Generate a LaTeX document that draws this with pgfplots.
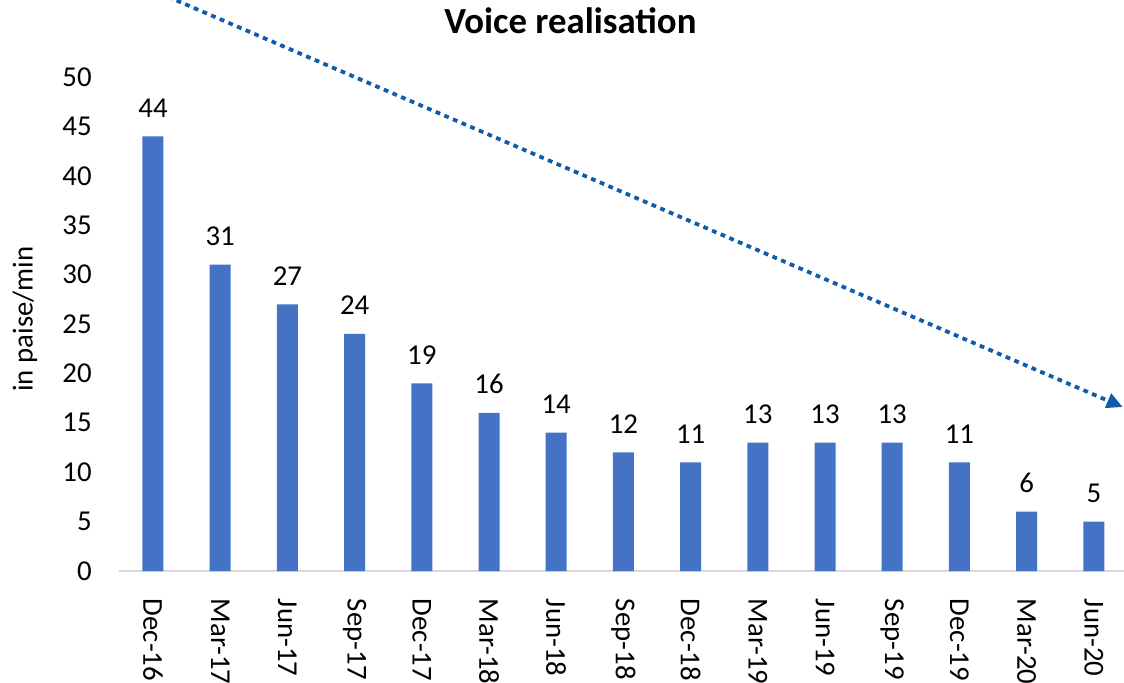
\documentclass[border=0pt]{standalone}
\usepackage{pgfplots}
\pgfplotsset{compat=1.18}
\usepackage{fontspec}
\setmainfont{Carlito}
\usetikzlibrary{arrows.meta}
\definecolor{barblue}{HTML}{4472C4}
\definecolor{arrowblue}{HTML}{0E5DAA}
\definecolor{axisgrey}{HTML}{D9D9D9}
\begin{document}
\begin{tikzpicture}
\begin{axis}[
  at={(0,0)}, anchor=south west,
  scale only axis,
  width=504pt, height=247pt,
  xmin=-0.5, xmax=14.5, ymin=0, ymax=50,
  enlargelimits=false,
  clip=false,
  ybar, bar width=10.5pt,
  axis x line*=bottom, axis y line*=left,
  x axis line style={draw=axisgrey, line width=0.9pt},
  y axis line style={draw=none},
  tick style={draw=none},
  xtick=data,
  xticklabels={Dec-16,Mar-17,Jun-17,Sep-17,Dec-17,Mar-18,Jun-18,Sep-18,Dec-18,Mar-19,Jun-19,Sep-19,Dec-19,Mar-20,Jun-20},
  ytick={0,5,...,50},
  /pgf/number format/assume math mode=true,
  tick label style={font=\fontsize{14.4pt}{17pt}\selectfont, text=black},
  xticklabel style={rotate=-90, anchor=west, inner sep=0pt},
  xticklabel shift=9.5pt,
  yticklabel style={anchor=east, inner sep=0pt, xshift=-13.7pt},
  ylabel={in paise/min},
  ylabel style={at={(axis description cs:-0.0937,0.51)}, anchor=center, font=\fontsize{14.4pt}{17pt}\selectfont},
  nodes near coords,
  every node near coord/.append style={anchor=base, inner sep=0pt, yshift=9.5pt, font=\fontsize{14.4pt}{17pt}\selectfont, text=black},
]
\addplot[fill=barblue, draw=none] coordinates {
  (0,44) (1,31) (2,27) (3,24) (4,19) (5,16) (6,14) (7,12)
  (8,11) (9,13) (10,13) (11,13) (12,11) (13,6) (14,5)
};
\draw[arrowblue, line width=1.9pt, dash pattern=on 2.4pt off 2.3pt,
  -{Triangle[length=8pt,width=7.5pt]}]
  (axis cs:-0.42,60) -- (axis cs:14.43,16.6);
\end{axis}
\node[anchor=base, font=\bfseries\fontsize{18.4pt}{22pt}\selectfont] at (225.5pt,269pt) {Voice realisation};
\pgfresetboundingbox
\path[use as bounding box] (-59.7pt,-55.5pt) rectangle (502.3pt,285.5pt);
\end{tikzpicture}
\end{document}
